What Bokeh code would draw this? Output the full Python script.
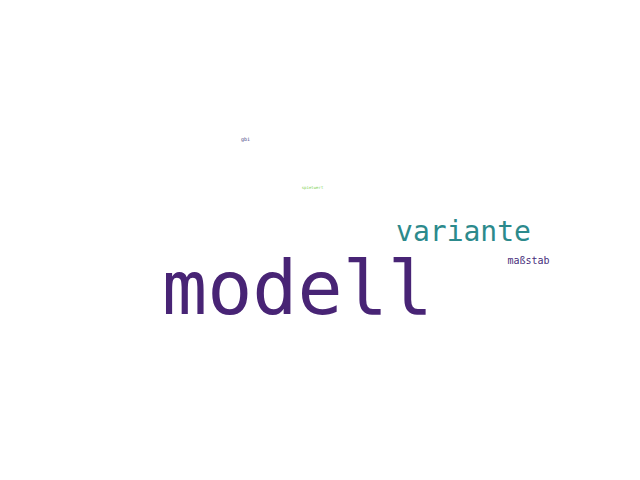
from bokeh.plotting import figure
from bokeh.models import ColumnDataSource
from bokeh.core.properties import value
from bokeh.embed import file_html
from bokeh.resources import INLINE

# word cloud: word, centre position (page px), font size, colour
words = ["modell", "variante", "maßstab", "spielwert", "gbi"]
xs = [305, 471, 536, 320, 253]
ys = [295, 239, 268, 195, 146]
sizes = ["75px", "28px", "10px", "4px", "5px"]
colors = ["#482475", "#2c8a8c", "#472d7b", "#7ad151", "#443983"]

source = ColumnDataSource(data=dict(
    x=[v - 8 for v in xs],
    y=[v - 8 for v in ys],
    word=words,
    size=sizes,
    color=colors,
))

p = figure(width=624, height=464, x_range=(0, 624), y_range=(464, 0),
           output_backend="svg", toolbar_location=None, min_border=0)
p.axis.visible = False
p.grid.visible = False
p.outline_line_color = None

p.text("x", "y", text="word", source=source, text_font=value("DejaVu Sans Mono"),
       text_font_size="size", text_color="color",
       text_align="center", text_baseline="middle")

open("out.html", "w").write(file_html(p, INLINE))
